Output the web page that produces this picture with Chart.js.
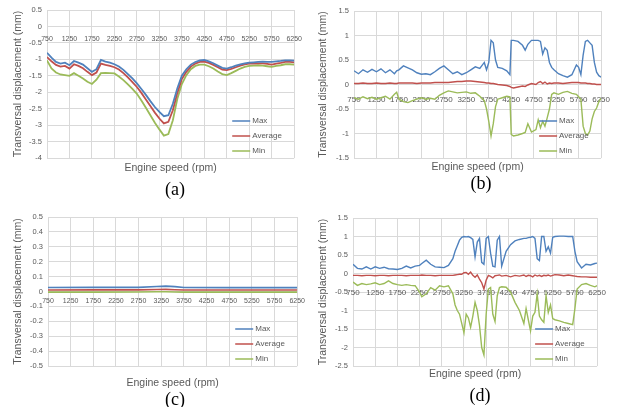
<!DOCTYPE html>
<html>
<head>
<title>Transversal displacement vs engine speed</title>
<script src="https://cdn.jsdelivr.net/npm/chart.js"></script>
<style>
  body { margin: 0; background: #fff; }
  #fig { position: relative; width: 620px; height: 407px; overflow: hidden; }
  canvas { position: absolute; }
  .cap { position: absolute; font: 18px "Liberation Serif", serif; color: #000; transform: translate(-50%, -50%); white-space: nowrap; }
</style>
</head>
<body>
<div id="fig">
  <canvas id="chart-a" width="310" height="185" style="left:0;top:0"></canvas>
  <canvas id="chart-b" width="310" height="185" style="left:310px;top:0"></canvas>
  <canvas id="chart-c" width="310" height="195" style="left:0;top:200px"></canvas>
  <canvas id="chart-d" width="310" height="195" style="left:310px;top:200px"></canvas>
  <div class="cap" style="left:175px;top:189px">(a)</div>
  <div class="cap" style="left:481px;top:183px">(b)</div>
  <div class="cap" style="left:175px;top:399px">(c)</div>
  <div class="cap" style="left:480px;top:395px">(d)</div>
</div>

<script>
// series names shared by all four panels
const seriesNames = ["Max", "Average", "Min"];

// (a)
const rpmA = [750, 850, 950, 1050, 1150, 1250, 1350, 1450, 1550, 1650, 1750, 1850, 1950, 2050, 2150,
  2250, 2350, 2450, 2550, 2650, 2750, 2850, 2950, 3050, 3150, 3250, 3350, 3450, 3550, 3650, 3750,
  3850, 3950, 4050, 4150, 4250,
  4350, 4450, 4550, 4650, 4750, 4850, 4950, 5050, 5150, 5250, 5350, 5450, 5550, 5650, 5750,
  5850, 5950, 6050, 6150, 6250];
const maxA = [-0.80, -0.95, -1.08, -1.13, -1.10, -1.18, -1.05, -1.10, -1.16, -1.27, -1.38, -1.30, -1.02, -1.07, -1.10,
  -1.15, -1.22, -1.32, -1.45, -1.58, -1.73, -1.90, -2.08, -2.27, -2.45, -2.60, -2.73, -2.70, -2.35, -1.88, -1.50,
  -1.30, -1.16, -1.08, -1.03, -1.02,
  -1.06, -1.12, -1.19, -1.26, -1.28, -1.24, -1.19, -1.15, -1.12, -1.10, -1.09, -1.08, -1.07, -1.08, -1.08,
  -1.06, -1.05, -1.03, -1.03, -1.04];
const avgA = [-0.93, -1.06, -1.17, -1.22, -1.20, -1.28, -1.15, -1.20, -1.27, -1.38, -1.48, -1.40, -1.13, -1.17, -1.20,
  -1.24, -1.31, -1.42, -1.55, -1.69, -1.84, -2.02, -2.22, -2.42, -2.62, -2.80, -2.95, -2.90, -2.55, -2.02, -1.60,
  -1.38, -1.22, -1.13, -1.08, -1.07,
  -1.11, -1.17, -1.24, -1.31, -1.33, -1.29, -1.24, -1.19, -1.15, -1.13, -1.13, -1.12, -1.12, -1.14, -1.16,
  -1.13, -1.11, -1.08, -1.08, -1.09];
const minA = [-1.03, -1.28, -1.40, -1.46, -1.48, -1.50, -1.42, -1.50, -1.58, -1.68, -1.75, -1.62, -1.42, -1.41, -1.42,
  -1.43, -1.52, -1.63, -1.76, -1.90, -2.05, -2.25, -2.47, -2.70, -2.93, -3.13, -3.32, -3.27, -2.85, -2.20, -1.75,
  -1.48, -1.30, -1.20, -1.16, -1.16,
  -1.21, -1.28, -1.37, -1.45, -1.48, -1.42, -1.35, -1.28, -1.23, -1.20, -1.19, -1.18, -1.19, -1.21, -1.23,
  -1.20, -1.18, -1.15, -1.15, -1.16];

// (b)
const rpmB = [750, 850, 950, 1050, 1150, 1250, 1350, 1450, 1550, 1650,
  1700, 1750, 1850, 1950, 2050, 2150, 2250, 2350, 2450, 2550,
  2650, 2750, 2850, 2950, 3050, 3150, 3250, 3350, 3450, 3550,
  3650, 3700, 3750, 3800, 3850, 3900, 3950, 4050, 4150, 4220,
  4250, 4300, 4400, 4500, 4560, 4620, 4700, 4800, 4850, 4900,
  4950, 5000, 5050, 5100, 5150, 5200, 5300, 5400, 5500, 5600,
  5700, 5750, 5800, 5850, 5900, 5950, 6000, 6050, 6100, 6150,
  6200, 6250];
const maxB = [0.28, 0.22, 0.30, 0.25, 0.31, 0.26, 0.32, 0.24, 0.30, 0.22,
  0.28, 0.30, 0.38, 0.34, 0.30, 0.24, 0.21, 0.22, 0.20, 0.26,
  0.33, 0.38, 0.30, 0.22, 0.26, 0.20, 0.24, 0.30, 0.36, 0.33,
  0.45, 0.30, 0.45, 0.90, 0.85, 0.50, 0.35, 0.33, 0.28, 0.20,
  0.90, 0.90, 0.88, 0.80, 0.70, 0.82, 0.90, 0.90, 0.90, 0.88,
  0.62, 0.75, 0.70, 0.45, 0.35, 0.30, 0.22, 0.18, 0.15, 0.20,
  0.40, 0.35, 0.20, 0.60, 0.88, 0.90, 0.85, 0.80, 0.45, 0.25,
  0.18, 0.15];
const avgB = [0.02, 0.02, 0.03, 0.02, 0.02, 0.03, 0.02, 0.02, 0.03, 0.02,
  0.02, 0.03, 0.03, 0.03, 0.03, 0.02, 0.03, 0.03, 0.03, 0.04,
  0.04, 0.04, 0.04, 0.05, 0.06, 0.06, 0.07, 0.07, 0.06, 0.05,
  0.04, 0.03, 0.03, 0.02, 0.02, 0.01, 0.00, -0.01, -0.02, -0.04,
  -0.06, -0.07, -0.05, -0.03, -0.04, -0.01, 0.02, 0.00, 0.04, 0.06,
  0.02, 0.05, 0.01, 0.03, 0.02, 0.03, 0.03, 0.02, 0.03, 0.04,
  0.04, 0.04, 0.03, 0.03, 0.03, 0.02, 0.02, 0.01, 0.01, 0.00,
  0.00, 0.00];
const minB = [-0.27, -0.30, -0.25, -0.29, -0.26, -0.30, -0.27, -0.24, -0.30, -0.20,
  -0.16, -0.30, -0.35, -0.37, -0.33, -0.30, -0.27, -0.30, -0.28, -0.30,
  -0.22, -0.17, -0.13, -0.15, -0.17, -0.16, -0.15, -0.18, -0.17, -0.24,
  -0.33, -0.50, -0.75, -1.05, -0.80, -0.45, -0.30, -0.27, -0.24, -0.25,
  -1.02, -1.05, -1.03, -1.00, -0.98, -0.80, -0.97, -0.92, -0.72, -0.88,
  -0.75, -0.85, -0.68, -0.50, -0.20, -0.17, -0.20, -0.16, -0.14, -0.18,
  -0.20, -0.25, -0.30, -0.85, -1.00, -1.03, -0.95, -0.70, -0.55, -0.48,
  -0.35, -0.28];

// (c)
const rpmC = [750, 1750, 2750, 3150, 3350, 3550, 3750, 4750, 6250];
const maxC = [0.027, 0.028, 0.028, 0.034, 0.036, 0.033, 0.027, 0.026, 0.026];
const avgC = [0.010, 0.011, 0.011, 0.013, 0.014, 0.012, 0.010, 0.010, 0.010];
const minC = [-0.004, -0.004, -0.003, -0.002, -0.002, -0.003, -0.004, -0.004, -0.004];

// (d)
const rpmD = [750, 850, 950, 1050, 1150, 1250, 1350, 1450, 1550, 1650,
  1750, 1850, 1950, 2050, 2150, 2250, 2300, 2400, 2500, 2600,
  2700, 2800, 2900, 3000, 3050, 3100, 3150, 3200, 3250, 3300,
  3350, 3400, 3450, 3500, 3550, 3600, 3650, 3700, 3750, 3800,
  3850, 3900, 3950, 4000, 4050, 4100, 4200, 4300, 4400, 4500,
  4600, 4650, 4700, 4750, 4800, 4850, 4900, 4950, 5000, 5050,
  5100, 5150, 5200, 5250, 5300, 5400, 5500, 5600, 5700, 5750,
  5800, 5900, 6000, 6100, 6200, 6250];
const maxD = [0.25, 0.14, 0.12, 0.18, 0.12, 0.18, 0.14, 0.17, 0.13, 0.12,
  0.11, 0.14, 0.20, 0.15, 0.20, 0.22, 0.27, 0.36, 0.25, 0.18,
  0.17, 0.16, 0.22, 0.40, 0.60, 0.75, 0.90, 0.98, 1.00, 0.99,
  1.00, 0.97, 0.92, 0.45, 0.85, 0.95, 0.30, 0.25, 0.95, 1.00,
  0.55, 0.20, 0.18, 0.90, 1.00, 0.20, 0.60, 0.78, 0.88, 0.92,
  0.95, 0.95, 0.97, 0.98, 1.00, 0.95, 0.40, 0.35, 1.00, 1.00,
  0.60, 0.72, 0.55, 0.98, 1.00, 1.01, 1.01, 1.00, 1.00, 0.60,
  0.32, 0.15, 0.25, 0.23, 0.27, 0.28];
const avgD = [-0.05, -0.05, -0.06, -0.05, -0.05, -0.06, -0.05, -0.05, -0.06, -0.05,
  -0.05, -0.05, -0.06, -0.05, -0.05, -0.05, -0.04, -0.05, -0.05, -0.06,
  -0.05, -0.05, -0.05, -0.05, -0.04, -0.03, -0.02, -0.02, 0.02, 0.03,
  -0.02, 0.04, -0.05, -0.10, -0.04, -0.15, -0.25, -0.42, -0.18, -0.05,
  -0.08, -0.12, -0.06, -0.05, -0.04, -0.07, -0.05, -0.09, -0.05, -0.07,
  -0.04, -0.08, -0.05, -0.06, -0.09, -0.04, -0.07, -0.05, -0.08, -0.05,
  -0.06, -0.04, -0.07, -0.05, -0.03, -0.04, -0.06, -0.04, -0.06, -0.07,
  -0.08, -0.09, -0.09, -0.10, -0.10, -0.10];
const minD = [-0.23, -0.32, -0.27, -0.30, -0.28, -0.25, -0.30, -0.27, -0.20, -0.27,
  -0.30, -0.32, -0.30, -0.32, -0.33, -0.50, -0.63, -0.55, -0.38, -0.45,
  -0.33, -0.36, -0.33, -0.55, -0.85, -1.00, -1.10, -1.35, -1.60, -1.10,
  -1.20, -1.45, -1.15, -0.78, -1.00, -1.40, -2.00, -2.20, -1.10, -0.42,
  -0.38, -1.10, -1.30, -0.60, -0.38, -0.36, -0.37, -0.50, -0.78, -1.00,
  -1.35, -0.95, -1.25, -1.55, -1.15, -1.05, -0.55, -1.15, -1.25, -1.32,
  -0.60, -1.05, -0.85, -1.22, -1.25, -1.28, -1.32, -1.35, -1.38, -0.95,
  -0.42, -0.30, -0.27, -0.32, -0.36, -0.33];

const colors = ["#4f81bd", "#c0504d", "#9bbb59"];
const textColor = "#595959";
const gridColor = "#d9d9d9";
const family = '"Liberation Sans", Arial, sans-serif';

// legend drawn inside the bottom right corner of the plot area, like Excel
const cornerLegend = {
  id: "cornerLegend",
  afterDatasetsDraw(chart) {
    const { ctx, chartArea } = chart;
    ctx.save();
    ctx.font = "8px " + family;
    ctx.textBaseline = "middle";
    chart.data.datasets.forEach((ds, i) => {
      const x = chartArea.right - 62;
      const y = chartArea.bottom - 37 + i * 15;
      ctx.strokeStyle = ds.borderColor;
      ctx.lineWidth = 1.5;
      ctx.beginPath();
      ctx.moveTo(x, y);
      ctx.lineTo(x + 18, y);
      ctx.stroke();
      ctx.fillStyle = textColor;
      ctx.fillText(ds.label, x + 20, y);
    });
    ctx.restore();
  },
};

function makePanel(id, rpm, series, p) {
  const W = 310;
  const H = document.getElementById(id).height;
  const lh = 10.5 * 1.2;
  const titlePad = p.titleY - p.area.b - lh / 2;

  new Chart(document.getElementById(id), {
    type: "line",
    data: {
      datasets: series.map((vals, i) => ({
        label: seriesNames[i],
        data: rpm.map((x, j) => ({ x: x, y: vals[j] })),
        borderColor: colors[i],
        borderWidth: p.lw,
        pointRadius: 0,
        fill: false,
      })),
    },
    options: {
      responsive: false,
      animation: false,
      devicePixelRatio: 1,
      layout: {
        autoPadding: false,
        padding: { left: 0, top: p.area.t, right: W - p.area.r, bottom: H - p.area.b - lh - titlePad },
      },
      plugins: {
        legend: { display: false },
        tooltip: { enabled: false },
        title: {
          display: true,
          text: "Engine speed (rpm)",
          position: "bottom",
          fullSize: false,
          color: textColor,
          font: { family: family, size: 10.5, weight: "normal" },
          padding: { top: titlePad, bottom: 0 },
        },
      },
      scales: {
        x: {
          type: "linear",
          position: { y: 0 },
          min: 750,
          max: 6250,
          grid: { color: gridColor, drawTicks: false },
          border: { display: false },
          ticks: {
            stepSize: 500,
            autoSkip: false,
            maxRotation: 0,
            padding: p.xPad,
            color: textColor,
            font: { family: family, size: p.xFont },
            callback: (v) => String(v),
          },
        },
        y: {
          position: "left",
          min: p.yMin,
          max: p.yMax,
          grid: { color: gridColor, drawTicks: false },
          border: { display: false },
          ticks: {
            stepSize: p.yStep,
            padding: 5,
            color: textColor,
            font: { family: family, size: 7.5 },
            callback: (v) => String(Math.round(v * 100) / 100),
          },
          title: {
            display: true,
            text: "Transversal displacement (mm)",
            color: textColor,
            font: { family: family, size: 10.5 },
            padding: { top: p.yTitleX - lh / 2, bottom: 0 },
          },
          afterFit: (scale) => { scale.width = p.area.l; },
        },
      },
    },
    plugins: [cornerLegend],
  });
}

makePanel("chart-a", rpmA, [maxA, avgA, minA], {
  area: { l: 47, t: 10, r: 302, b: 158 }, titleY: 168, yTitleX: 18,
  xPad: 8, xFont: 7, yMin: -4, yMax: 0.5, yStep: 0.5, lw: 1.8,
});
makePanel("chart-b", rpmB, [maxB, avgB, minB], {
  area: { l: 44, t: 11, r: 297, b: 158 }, titleY: 167, yTitleX: 13,
  xPad: 10, xFont: 8, yMin: -1.5, yMax: 1.5, yStep: 0.5, lw: 1.4,
});
makePanel("chart-c", rpmC, [maxC, avgC, minC], {
  area: { l: 48, t: 17, r: 302, b: 166 }, titleY: 183, yTitleX: 18,
  xPad: 5, xFont: 7, yMin: -0.5, yMax: 0.5, yStep: 0.1, lw: 1.6,
});
makePanel("chart-d", rpmD, [maxD, avgD, minD], {
  area: { l: 43, t: 18, r: 297, b: 166 }, titleY: 174, yTitleX: 13,
  xPad: 14, xFont: 8, yMin: -2.5, yMax: 1.5, yStep: 0.5, lw: 1.4,
});
</script>
</body>
</html>
